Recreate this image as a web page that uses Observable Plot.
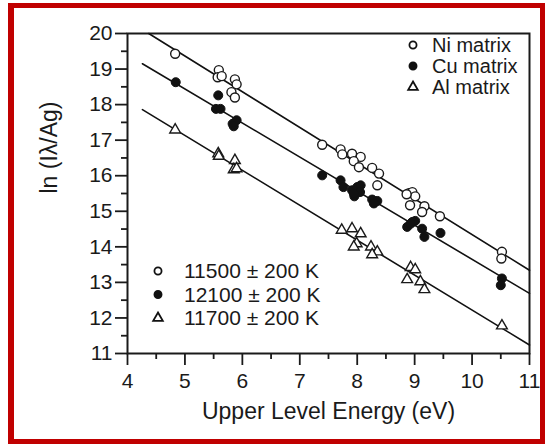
<!DOCTYPE html>
<html>
<head>
<meta charset="utf-8">
<script src="https://cdn.jsdelivr.net/npm/d3@7"></script>
<script src="https://cdn.jsdelivr.net/npm/@observablehq/plot@0.6"></script>
<style>
  html, body { margin: 0; padding: 0; background: #fff; }
  #wrap { position: relative; width: 547px; height: 446px; overflow: hidden; background: #fff; }
  #border { position: absolute; left: 8px; top: 3px; width: 537px; height: 441px; box-sizing: border-box; border: 5px solid #c00000; border-left-width: 6px; pointer-events: none; }
  #chart { position: absolute; left: 0; top: 0; }
  #legend { position: absolute; left: 0; top: 0; }
</style>
</head>
<body>
<div id="wrap">
  <div id="chart"></div>
  <svg id="legend" width="547" height="446"></svg>
  <div id="border"></div>
</div>
<script>
// Ni matrix (open circles)
const niE = [4.83,5.59,5.57,5.64,5.87,5.90,5.81,5.87,7.39,7.71,7.74,7.91,8.06,7.94,8.03,8.26,8.38,8.35,8.90,8.96,9.01,8.86,8.92,9.17,9.13,9.44,10.52,10.51];
const niV = [19.43,18.97,18.77,18.80,18.71,18.57,18.35,18.20,16.87,16.74,16.60,16.62,16.53,16.41,16.24,16.22,16.06,15.73,15.51,15.54,15.42,15.48,15.17,15.14,14.98,14.86,13.86,13.67];
// Cu matrix (filled circles)
const cuE = [4.84,5.58,5.54,5.62,5.83,5.90,5.85,7.39,7.71,7.76,7.91,8.00,8.06,7.95,8.05,7.94,8.26,8.35,8.29,8.87,8.96,9.01,8.93,9.13,9.17,9.45,10.52,10.50];
const cuV = [18.63,18.26,17.88,17.88,17.46,17.56,17.39,16.01,15.87,15.68,15.59,15.68,15.73,15.42,15.54,15.50,15.33,15.29,15.22,14.56,14.70,14.73,14.65,14.51,14.28,14.39,13.11,12.92];
// Al matrix (open triangles)
const alE = [4.83,5.58,5.59,5.87,5.85,5.90,7.73,7.91,8.06,7.99,7.94,8.24,8.35,8.26,8.93,9.01,8.87,9.10,9.17,10.52];
const alV = [17.29,16.62,16.55,16.43,16.17,16.20,14.47,14.51,14.37,14.09,14.00,14.00,13.86,13.78,13.42,13.36,13.08,13.02,12.80,11.78];
// Fitted lines (end points)
const niFitE = [4.37, 11]; const niFitV = [20.0, 13.34];
const cuFitE = [4.26, 11]; const cuFitV = [19.15, 12.69];
const alFitE = [4.26, 11]; const alFitV = [17.86, 11.24];

const xTicks = [4,5,6,7,8,9,10,11];
const xMinor = [4.5,5.5,6.5,7.5,8.5,9.5,10.5];
const yTicks = [11,12,13,14,15,16,17,18,19,20];
const yMinor = [11.5,12.5,13.5,14.5,15.5,16.5,17.5,18.5,19.5];

const matrixLabels = ["Ni matrix","Cu matrix","Al matrix"];
const tempLabels = ["11500 ± 200 K","12100 ± 200 K","11700 ± 200 K"];
const xLabel = "Upper Level Energy (eV)";
const yLabel = "ln (Iλ/Ag)";

const pts = (E, V) => E.map((e, i) => ({e, v: V[i]}));
const ni = pts(niE, niV), cu = pts(cuE, cuV), al = pts(alE, alV);
const niFit = pts(niFitE, niFitV), cuFit = pts(cuFitE, cuFitV), alFit = pts(alFitE, alFitV);

const font = "'Liberation Sans', Arial, Helvetica, sans-serif";
const ink = "#1a1a1a";

const chart = Plot.plot({
  width: 547,
  height: 446,
  marginLeft: 127,
  marginRight: 18,
  marginTop: 33,
  marginBottom: 93,
  style: {fontFamily: font, fontSize: "21px", color: ink, background: "transparent"},
  x: {domain: [4, 11]},
  y: {domain: [11, 20]},
  marks: [
    Plot.axisX({ticks: xTicks, tickFormat: d3.format("d"), tickSize: 12, tickPadding: 8, strokeWidth: 1.8, stroke: ink, label: null, fontSize: 21}),
    Plot.axisX({ticks: xMinor, tickSize: 6, tickFormat: () => "", strokeWidth: 1.8, stroke: ink, label: null}),
    Plot.axisY({ticks: yTicks, tickFormat: d3.format("d"), tickSize: 12, tickPadding: 3, strokeWidth: 1.8, stroke: ink, label: null, fontSize: 21}),
    Plot.axisY({ticks: yMinor, tickSize: 6, tickFormat: () => "", strokeWidth: 1.8, stroke: ink, label: null}),
    Plot.frame({stroke: ink, strokeWidth: 2}),
    Plot.line(niFit, {x: "e", y: "v", stroke: "#111", strokeWidth: 1.6}),
    Plot.line(cuFit, {x: "e", y: "v", stroke: "#111", strokeWidth: 1.6}),
    Plot.line(alFit, {x: "e", y: "v", stroke: "#111", strokeWidth: 1.6}),
    Plot.dot(ni, {x: "e", y: "v", r: 4.5, fill: "white", stroke: ink, strokeWidth: 1.4}),
    Plot.dot(cu, {x: "e", y: "v", r: 4.5, fill: "#111", stroke: "#111", strokeWidth: 1}),
    Plot.dot(al, {x: "e", y: "v", r: 4, symbol: "triangle", fill: "white", stroke: ink, strokeWidth: 1.4}),
    Plot.text([xLabel], {frameAnchor: "bottom", dy: 65, text: d => d, fontSize: 23, fill: ink}),
    Plot.text([yLabel], {frameAnchor: "left", dx: -78, rotate: -90, text: d => d, fontSize: 23, fill: ink})
  ]
});
document.getElementById("chart").appendChild(chart);

// Legends
const leg = d3.select("#legend").style("font-family", font);
const sym = [d3.symbolCircle, d3.symbolCircle, d3.symbolTriangle];
const fills = ["white", "#111", "white"];
function legend(x0, y0, dy, labels, tx, fs, size) {
  labels.forEach((lab, i) => {
    leg.append("path")
      .attr("d", d3.symbol(sym[i], size)())
      .attr("transform", `translate(${x0},${y0 + i * dy})`)
      .attr("fill", fills[i]).attr("stroke", "#111").attr("stroke-width", 1.8);
    leg.append("text").attr("x", tx).attr("y", y0 + i * dy)
      .attr("dy", "0.35em").attr("font-size", fs).attr("fill", ink).text(lab);
  });
}
legend(413, 45, 21, matrixLabels, 432, 20, 40);
legend(158, 271, 23.5, tempLabels, 184, 21, 40);
</script>
</body>
</html>
